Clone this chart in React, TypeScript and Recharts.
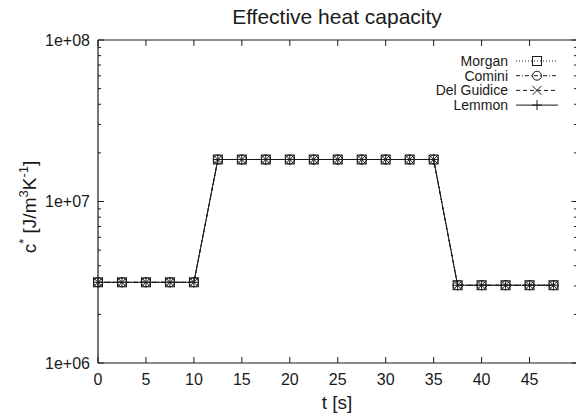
import { LineChart, Line, XAxis, YAxis } from 'recharts';

const times = [0, 2.5, 5, 7.5, 10, 12.5, 15, 17.5, 20, 22.5, 25, 27.5, 30, 32.5, 35, 37.5, 40, 42.5, 45, 47.5];
const morgan = [3.16e6, 3.16e6, 3.16e6, 3.16e6, 3.16e6, 1.82e7, 1.82e7, 1.82e7, 1.82e7, 1.82e7, 1.82e7, 1.82e7, 1.82e7, 1.82e7, 1.82e7, 3.03e6, 3.03e6, 3.03e6, 3.03e6, 3.03e6];
const comini = [3.16e6, 3.16e6, 3.16e6, 3.16e6, 3.16e6, 1.82e7, 1.82e7, 1.82e7, 1.82e7, 1.82e7, 1.82e7, 1.82e7, 1.82e7, 1.82e7, 1.82e7, 3.03e6, 3.03e6, 3.03e6, 3.03e6, 3.03e6];
const delGuidice = [3.16e6, 3.16e6, 3.16e6, 3.16e6, 3.16e6, 1.82e7, 1.82e7, 1.82e7, 1.82e7, 1.82e7, 1.82e7, 1.82e7, 1.82e7, 1.82e7, 1.82e7, 3.03e6, 3.03e6, 3.03e6, 3.03e6, 3.03e6];
const lemmon = [3.16e6, 3.16e6, 3.16e6, 3.16e6, 3.16e6, 1.82e7, 1.82e7, 1.82e7, 1.82e7, 1.82e7, 1.82e7, 1.82e7, 1.82e7, 1.82e7, 1.82e7, 3.03e6, 3.03e6, 3.03e6, 3.03e6, 3.03e6];

const xTicks = [0, 5, 10, 15, 20, 25, 30, 35, 40, 45];
const yTicks = [1e6, 2e6, 3e6, 4e6, 5e6, 6e6, 7e6, 8e6, 9e6, 1e7, 2e7, 3e7, 4e7, 5e7, 6e7, 7e7, 8e7, 9e7, 1e8];
const yMajor = [1e6, 1e7, 1e8];
const yMajorLabels = ['1e+06', '1e+07', '1e+08'];

const seriesNames = ['Morgan', 'Comini', 'Del Guidice', 'Lemmon'];
const seriesKeys = ['morgan', 'comini', 'delGuidice', 'lemmon'];
const seriesDash = ['1 2', '4 2 1 2', '4 3', ''];
const seriesMarker = ['square', 'circle', 'cross', 'plus'];

const data = times.map((t, i) => ({
  t,
  morgan: morgan[i],
  comini: comini[i],
  delGuidice: delGuidice[i],
  lemmon: lemmon[i],
}));

const INK = '#1a1a1a';
const FONT = '"Liberation Sans", Arial, Helvetica, sans-serif';

function Marker({ kind, cx, cy }: { kind: string; cx: number; cy: number }) {
  const s = 4.5;
  if (kind === 'square') return <rect x={cx - s} y={cy - s} width={s * 2} height={s * 2} fill="none" stroke={INK} strokeWidth={1} />;
  if (kind === 'circle') return <circle cx={cx} cy={cy} r={s} fill="none" stroke={INK} strokeWidth={1} />;
  if (kind === 'cross')
    return (
      <g stroke={INK} strokeWidth={1}>
        <line x1={cx - s} y1={cy - s} x2={cx + s} y2={cy + s} />
        <line x1={cx - s} y1={cy + s} x2={cx + s} y2={cy - s} />
      </g>
    );
  return (
    <g stroke={INK} strokeWidth={1}>
      <line x1={cx - 5} y1={cy} x2={cx + 5} y2={cy} />
      <line x1={cx} y1={cy - 5} x2={cx} y2={cy + 5} />
    </g>
  );
}

const BottomTick = ({ x, y, payload }: any) => (
  <g>
    <line x1={x} x2={x} y1={y} y2={y - 6} stroke={INK} />
    <text x={x} y={y + 22} textAnchor="middle" fontSize={16} fontFamily={FONT} fill={INK}>
      {payload.value}
    </text>
  </g>
);

const TopTick = ({ x, y }: any) => <line x1={x} x2={x} y1={y} y2={y + 6} stroke={INK} />;

const LeftTick = ({ x, y, payload }: any) => {
  const idx = yMajor.indexOf(payload.value);
  const len = idx >= 0 ? 6 : 3;
  return (
    <g>
      <line x1={x} x2={x + len} y1={y} y2={y} stroke={INK} />
      {idx >= 0 && (
        <text x={x - 8} y={y} dy="0.35em" textAnchor="end" fontSize={16} fontFamily={FONT} fill={INK}>
          {yMajorLabels[idx]}
        </text>
      )}
    </g>
  );
};

const RightTick = ({ x, y, payload }: any) => {
  const len = yMajor.includes(payload.value) ? 6 : 3.5;
  return <line x1={x} x2={x - len} y1={y} y2={y} stroke={INK} />;
};

export default function App() {
  return (
    <div style={{ position: 'absolute', left: 0, top: 0, width: 576, height: 413, overflow: 'hidden', background: '#fff' }}>
      <LineChart width={580} height={413} data={data} margin={{ top: 39, right: 1.5, bottom: 49, left: 97 }}>
        <XAxis
          xAxisId="bottom"
          dataKey="t"
          type="number"
          domain={[0, 50]}
          ticks={xTicks}
          interval={0}
          height={1}
          tickSize={0}
          tickMargin={0}
          tickLine={false}
          tick={<BottomTick />}
          axisLine={{ stroke: INK, strokeWidth: 1.2 }}
        />
        <XAxis
          xAxisId="top"
          orientation="top"
          dataKey="t"
          type="number"
          domain={[0, 50]}
          ticks={xTicks}
          interval={0}
          height={1}
          tickSize={0}
          tickMargin={0}
          tickLine={false}
          tick={<TopTick />}
          axisLine={{ stroke: INK, strokeWidth: 1.2 }}
        />
        <YAxis
          yAxisId="left"
          type="number"
          scale="log"
          domain={[1e6, 1e8]}
          allowDataOverflow
          ticks={yTicks}
          interval={0}
          width={1}
          tickSize={0}
          tickMargin={0}
          tickLine={false}
          tick={<LeftTick />}
          axisLine={{ stroke: INK, strokeWidth: 1.2 }}
        />
        <YAxis
          yAxisId="right"
          orientation="right"
          type="number"
          scale="log"
          domain={[1e6, 1e8]}
          allowDataOverflow
          ticks={yTicks}
          interval={0}
          width={1}
          tickSize={0}
          tickMargin={0}
          tickLine={false}
          tick={<RightTick />}
          axisLine={{ stroke: INK, strokeWidth: 1.2 }}
        />
        {seriesKeys.map((key, si) => (
          <Line
            key={key}
            xAxisId="bottom"
            yAxisId="left"
            dataKey={key}
            name={seriesNames[si]}
            type="linear"
            stroke={INK}
            strokeWidth={1}
            strokeDasharray={seriesDash[si] || undefined}
            isAnimationActive={false}
            dot={(p: any) => <Marker key={`${key}-${p.index}`} kind={seriesMarker[si]} cx={p.cx} cy={p.cy} />}
            activeDot={false}
          />
        ))}
      </LineChart>
      <svg width={576} height={413} style={{ position: 'absolute', left: 0, top: 0, pointerEvents: 'none' }}>
        <text x={337} y={17} dy="0.35em" textAnchor="middle" fontSize={21} fontFamily={FONT} fill={INK}>
          Effective heat capacity
        </text>
        <text x={337} y={402} dy="0.35em" textAnchor="middle" fontSize={19} fontFamily={FONT} fill={INK}>
          t [s]
        </text>
        <text
          transform="translate(29,207) rotate(-90)"
          x={0}
          y={0}
          dy="0.35em"
          textAnchor="middle"
          fontSize={19}
          fontFamily={FONT}
          fill={INK}
        >
          c<tspan dy={-8} fontSize={13}>*</tspan>
          <tspan dy={8}> [J/m</tspan>
          <tspan dy={-8} fontSize={13}>3</tspan>
          <tspan dy={8}>K</tspan>
          <tspan dy={-8} fontSize={13}>-1</tspan>
          <tspan dy={8}>]</tspan>
        </text>
        {seriesNames.map((name, i) => {
          const y = 61 + i * 14.7;
          return (
            <g key={name}>
              <text x={508} y={y} dy="0.35em" textAnchor="end" fontSize={14} fontFamily={FONT} fill={INK}>
                {name}
              </text>
              <line x1={516} x2={558} y1={y} y2={y} stroke={INK} strokeWidth={1} strokeDasharray={seriesDash[i] || undefined} />
              <Marker kind={seriesMarker[i]} cx={537} cy={y} />
            </g>
          );
        })}
      </svg>
    </div>
  );
}
